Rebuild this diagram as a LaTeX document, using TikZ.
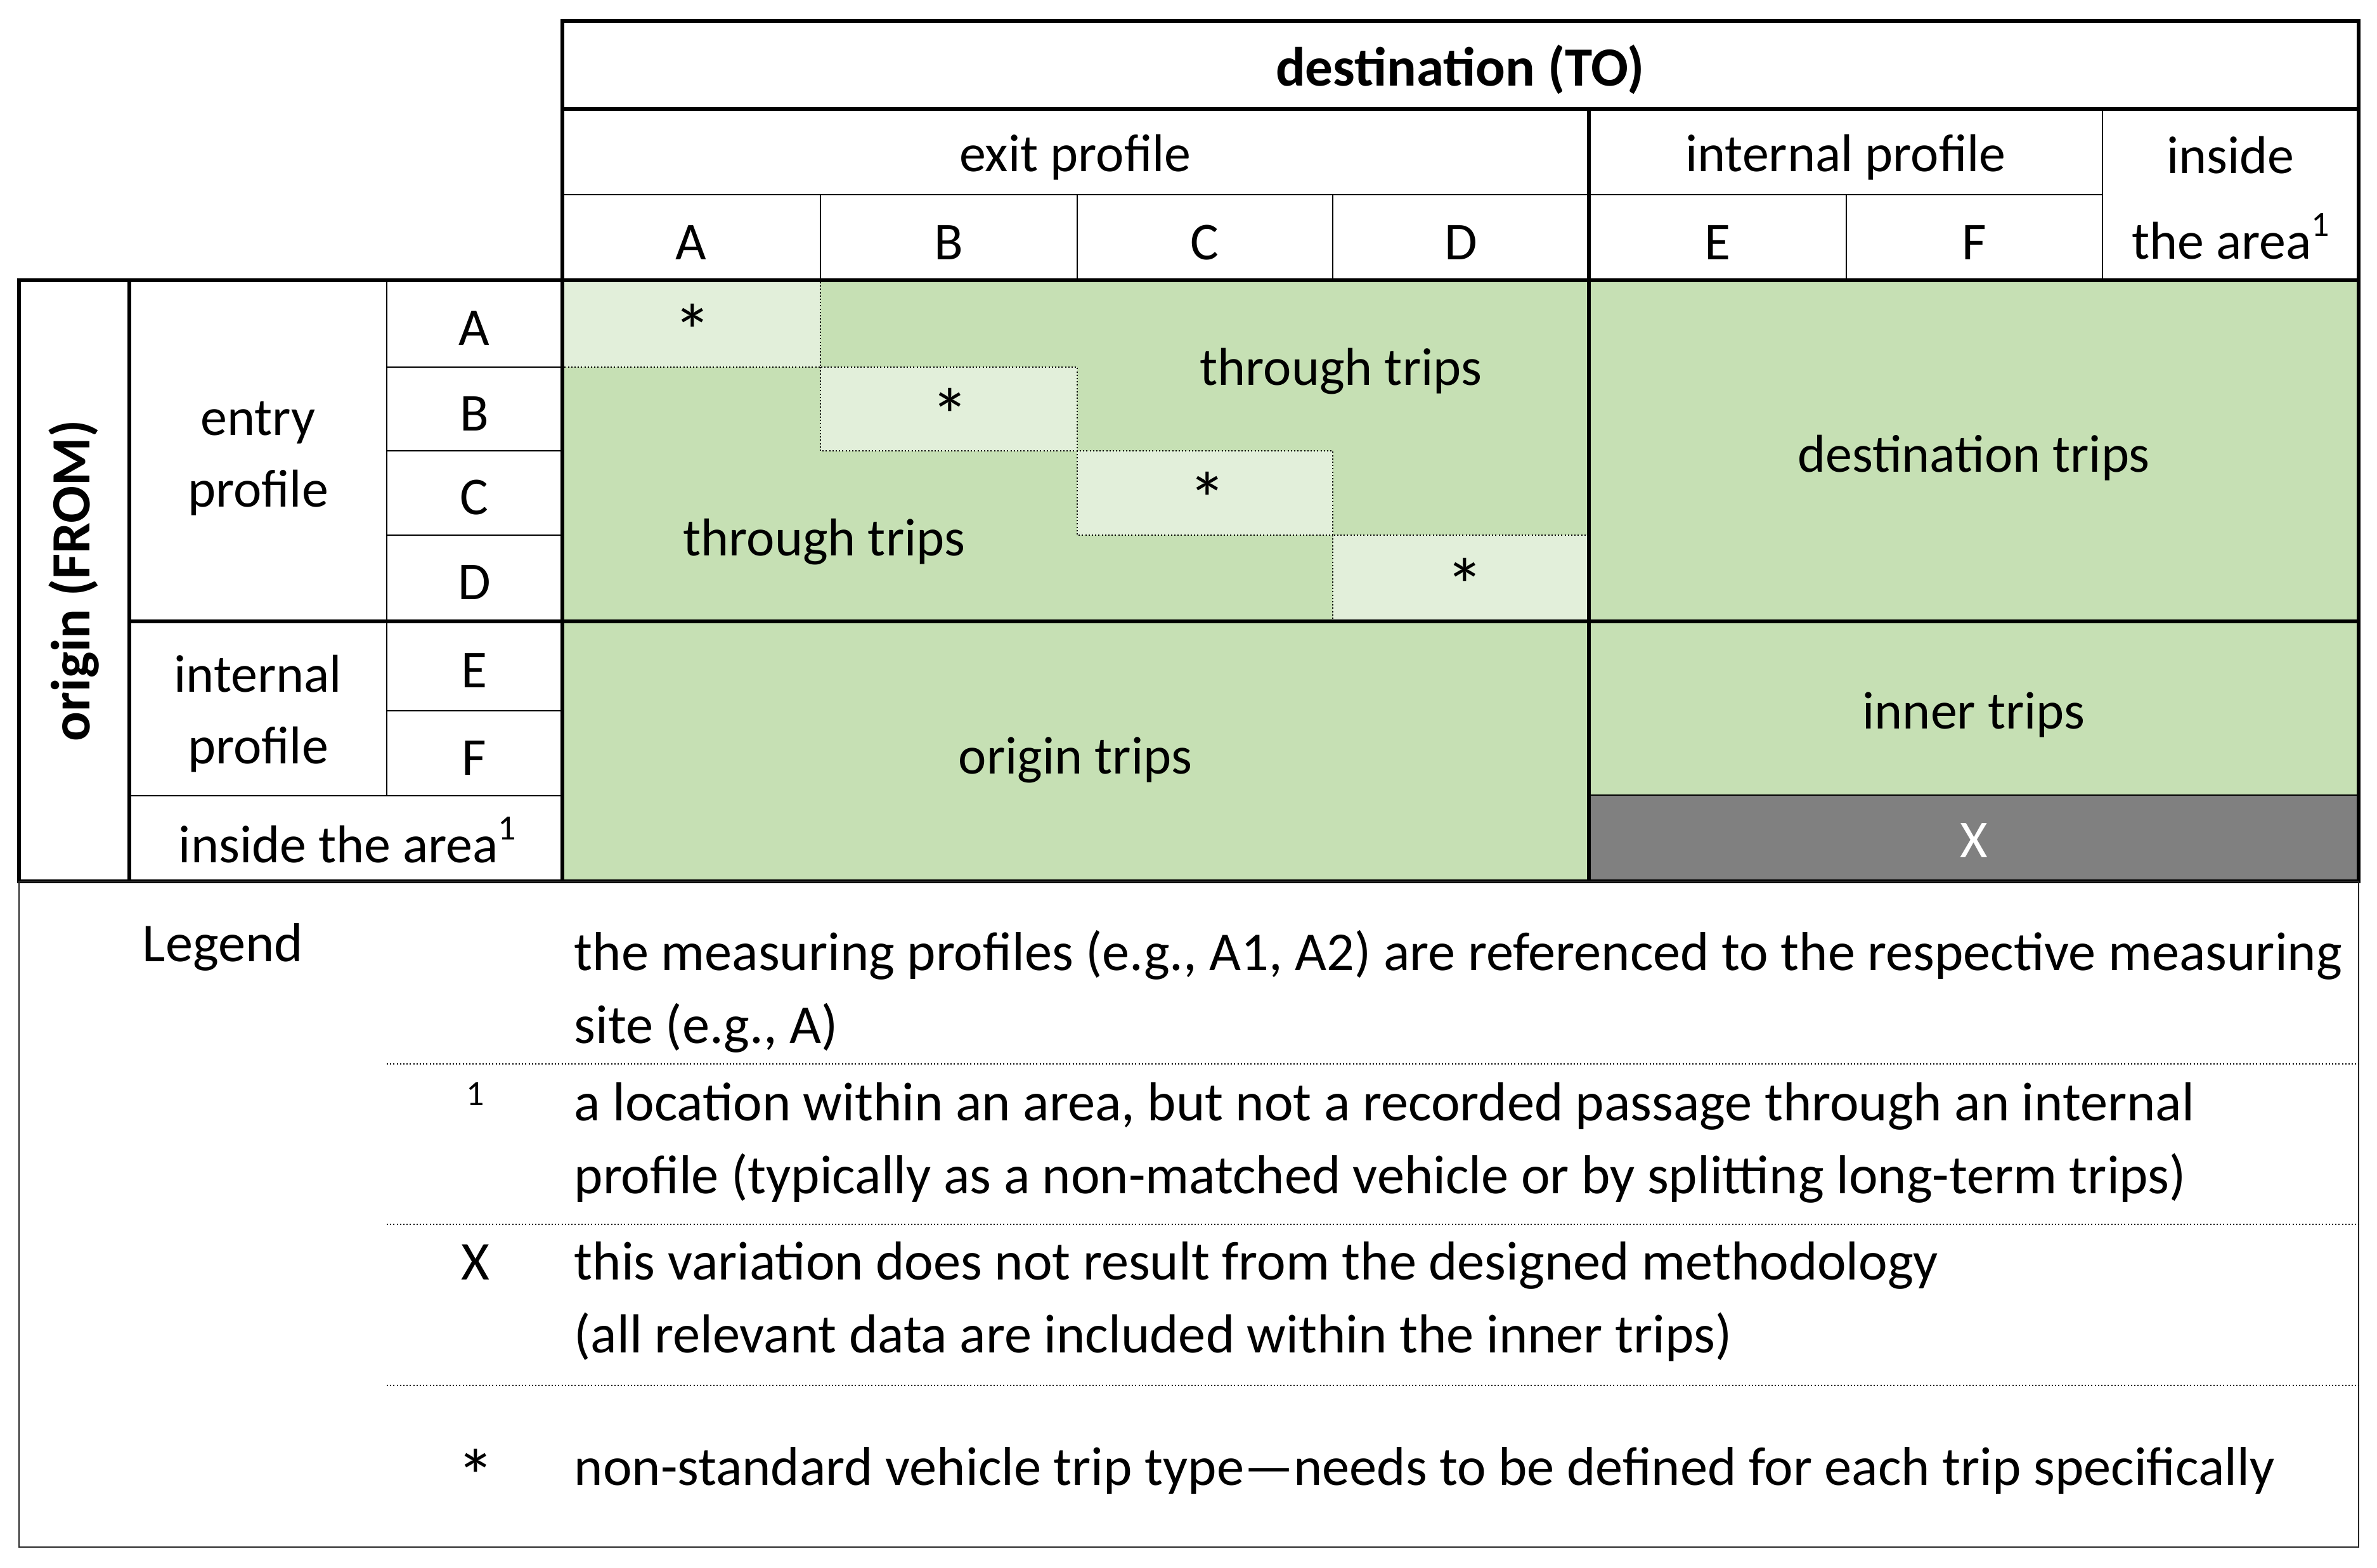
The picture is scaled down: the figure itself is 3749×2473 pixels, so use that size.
\documentclass[tikz,border=0pt]{standalone}
\usepackage{fontspec}
\setmainfont{Carlito}
\usepackage{tikz}
\definecolor{tripgreen}{HTML}{C6E0B4}
\definecolor{oddgreen}{HTML}{E2EFDA}
\definecolor{xgray}{HTML}{808080}
\newcommand{\areamark}[1]{\raisebox{#1}{\fontsize{14}{14}\selectfont 1}}
\newcommand{\bigstar}{{\fontsize{30}{30}\selectfont *}}

\begin{document}
\begin{tikzpicture}[
x = 0.25pt, y = -0.25pt,
tabtext/.style={align = center, inner sep = 0pt, font = \fontsize{21}{28.25}\selectfont},
headbold/.style={align = center, inner sep = 0pt, font = \fontsize{21.8}{28.25}\selectfont\bfseries},
labtext/.style={tabtext, yshift = -2pt},
legtext/.style={anchor = base west, inner sep = 0pt, font = \fontsize{21.6}{28.75}\selectfont},
legsym/.style={anchor = base, inner sep = 0pt, font = \fontsize{21.6}{28.75}\selectfont},
thinline/.style={line width = 0.6pt},
thickline/.style={line width = 1.3pt, line cap = rect},
dotline/.style={line width = 0.5pt, dash pattern = on 0.5pt off 0.8pt}]

\useasboundingbox (0,0) rectangle (3749,2473);

% cell fills
\fill[tripgreen] (887,442) rectangle (3720,1390);
\fill[oddgreen] (887,442) rectangle (1294,579);
\fill[oddgreen] (1294,579) rectangle (1699,711);
\fill[oddgreen] (1699,711) rectangle (2102,844);
\fill[oddgreen] (2102,844) rectangle (2506,980);
\fill[xgray] (2506,1254) rectangle (3720,1390);

\draw[dotline] (887,442) rectangle (1294,579);
\draw[dotline] (1294,579) rectangle (1699,711);
\draw[dotline] (1699,711) rectangle (2102,844);
\draw[dotline] (2102,844) rectangle (2506,980);

% thin grid
\draw[thinline] (887,307) -- (3316,307);
\draw[thinline] (1294,307) -- (1294,442);
\draw[thinline] (1699,307) -- (1699,442);
\draw[thinline] (2102,307) -- (2102,442);
\draw[thinline] (2912,307) -- (2912,442);
\draw[thinline] (3316,172) -- (3316,442);
\draw[thinline] (610,442) -- (610,1255);
\draw[thinline] (610,579) -- (887,579);
\draw[thinline] (610,711) -- (887,711);
\draw[thinline] (610,844) -- (887,844);
\draw[thinline] (610,1121) -- (887,1121);
\draw[thinline] (204,1255) -- (887,1255);
\draw[thinline] (2506,1254) -- (3720,1254);

% thick borders
\draw[thickline] (887,442) -- (887,33) -- (3720,33) -- (3720,1390);
\draw[thickline] (887,172) -- (3720,172);
\draw[thickline] (30,442) -- (3720,442);
\draw[thickline] (30,442) -- (30,1390) -- (3720,1390);
\draw[thickline] (204,442) -- (204,1390);
\draw[thickline] (887,442) -- (887,1390);
\draw[thickline] (2506,172) -- (2506,1390);
\draw[thickline] (204,980) -- (3720,980);

% legend box
\draw[thinline, black!85] (30,1390) rectangle (3720,2440);
\draw[dotline] (610,1678) -- (3720,1678);
\draw[dotline] (610,1931) -- (3720,1931);
\draw[dotline] (610,2185) -- (3720,2185);

% header
\node[headbold, yshift = -2pt] (dest) at (2303,102) {destination (TO)};
\node[labtext] (exitp) at (1696,240) {exit profile};
\node[labtext] (intp) at (2911,240) {internal profile};
\node[tabtext, font = \fontsize{21}{33.6}\selectfont] (inside) at (3518,312) {inside\\the area\areamark{9pt}};
\node[labtext] (colA) at (1090,375) {A};
\node[labtext] (colB) at (1496,375) {B};
\node[labtext] (colC) at (1900,375) {C};
\node[labtext] (colD) at (2304,375) {D};
\node[labtext] (colE) at (2709,375) {E};
\node[labtext] (colF) at (3114,375) {F};

% origin side
\node[headbold, rotate = 90] (orig) at (117,916) {origin (FROM)};
\node[labtext] (entry) at (407,715) {entry\\profile};
\node[tabtext] (intr) at (407,1126) {internal\\profile};
\node[tabtext] (insr) at (548,1325) {inside the area\areamark{9pt}};
\node[labtext] (rowA) at (748,510) {A};
\node[labtext] (rowB) at (748,645) {B};
\node[labtext] (rowC) at (748,777) {C};
\node[labtext] (rowD) at (748,911) {D};
\node[labtext] (rowE) at (748,1050) {E};
\node[labtext] (rowF) at (748,1188) {F};

% trip types
\node[tabtext] (thruU) at (2115,586) {through trips};
\node[tabtext] (thruL) at (1300,855) {through trips};
\node[tabtext] (destT) at (3113,722) {destination trips};
\node[tabtext] (origT) at (1696,1199) {origin trips};
\node[tabtext] (innerT) at (3113,1127) {inner trips};
\node[tabtext, text = white] (xT) at (3113,1326) {X};
\node[tabtext] (stA) at (1092,522) {\bigstar};
\node[tabtext] (stB) at (1498,655) {\bigstar};
\node[tabtext] (stC) at (1904,787) {\bigstar};
\node[tabtext] (stD) at (2310,923) {\bigstar};

% legend
\node[legtext] (leg) at (224,1516) {Legend};
\node[legtext] (legA1) at (905,1530) {the measuring profiles (e.g., A1, A2) are referenced to the respective measuring};
\node[legtext] (legA2) at (905,1645) {site (e.g., A)};
\node[legsym] (symB) at (750,1767) {\areamark{6pt}};
\node[legtext] (legB1) at (905,1767) {a location within an area, but not a recorded passage through an internal};
\node[legtext] (legB2) at (905,1882) {profile (typically as a non-matched vehicle or by splitting long-term trips)};
\node[legsym] (symC) at (750,2018) {X};
\node[legtext] (legC1) at (905,2018) {this variation does not result from the designed methodology};
\node[legtext] (legC2) at (905,2133) {(all relevant data are included within the inner trips)};
\node[legsym] (symD) at (750,2370) {\bigstar};
\node[legtext] (legD1) at (905,2342) {non-standard vehicle trip type—needs to be defined for each trip specifically};

\end{tikzpicture}
\end{document}
